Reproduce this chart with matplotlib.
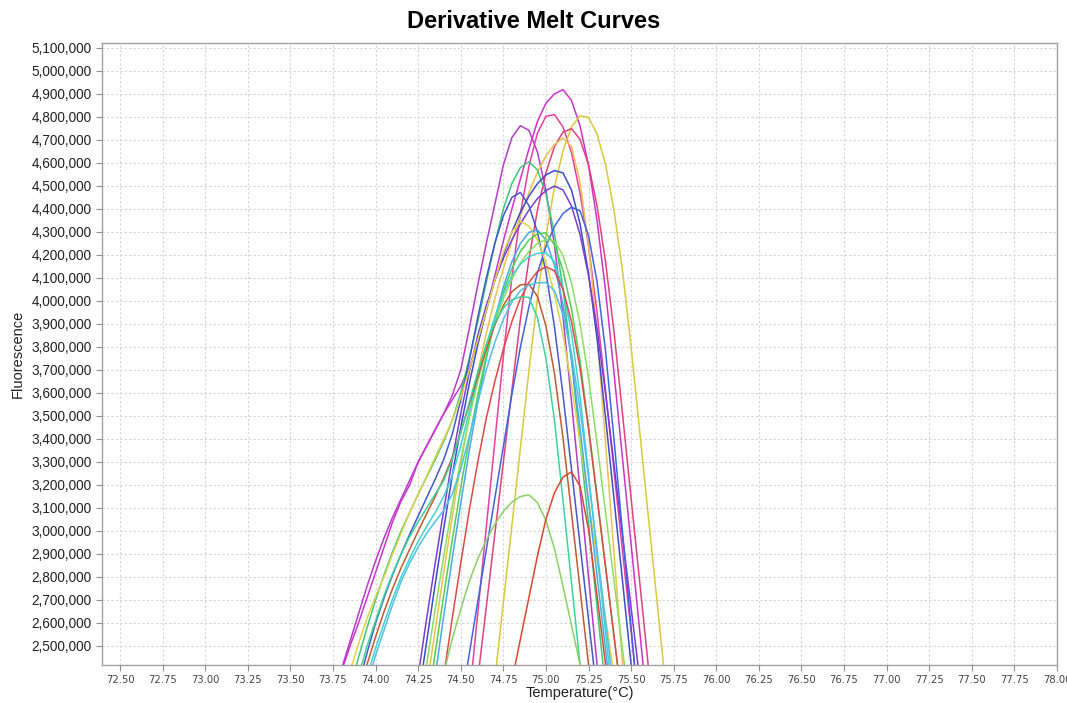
import numpy as np
import matplotlib
matplotlib.use("Agg")
import matplotlib.pyplot as plt
from matplotlib.ticker import FuncFormatter

# derivative melt data, -dF/dT in thousands, sampled every 0.05 C
# each curve starts at its own first temperature
step = 0.05

well_01 = [2400, 2520, 2640, 2760, 2870, 2970, 3060, 3140, 3220, 3300, 3370, 3440, 3510, 3590, 3700, 3880,
           4070, 4250, 4420, 4590, 4710, 4762, 4742, 4648, 4481, 4244, 3935, 3562, 3182, 2802, 2420, 2038]
well_02 = [2390, 2500, 2600, 2710, 2820, 2930, 3040, 3130, 3200, 3300, 3370, 3440, 3510, 3570, 3630, 3710,
           3820, 3960, 4110, 4260, 4400, 4530, 4660, 4780, 4860, 4900, 4919, 4872, 4762, 4590, 4350, 4045,
           3685, 3312, 2942, 2570, 2197]
well_03 = [2274, 2643, 3016, 3388, 3759, 4101, 4379, 4585, 4729, 4803, 4810, 4757, 4645, 4470, 4240, 3950,
           3608, 3258, 2909, 2561, 2212]
well_04 = [2353, 2688, 3022, 3359, 3694, 4012, 4282, 4494, 4652, 4757, 4805, 4798, 4726, 4593, 4392, 4129,
           3799, 3438, 3072, 2709, 2348]
well_05 = [2357, 2669, 2986, 3298, 3611, 3920, 4181, 4394, 4557, 4671, 4734, 4749, 4703, 4592, 4414, 4170,
           3865, 3506, 3142, 2783, 2420, 2057]
well_06 = [2320, 2570, 2820, 3060, 3290, 3500, 3690, 3860, 4010, 4140, 4260, 4370, 4470, 4560, 4630, 4680,
           4708, 4671, 4518, 4247, 3858, 3382, 2901, 2420, 1939]
well_07 = [2310, 2450, 2580, 2700, 2810, 2910, 3000, 3080, 3160, 3235, 3310, 3390, 3480, 3600, 3750, 3910,
           4080, 4250, 4400, 4510, 4580, 4605, 4570, 4465, 4295, 4054, 3744, 3388, 3032, 2669, 2313]
well_08 = [2270, 2520, 2770, 3010, 3240, 3450, 3640, 3810, 3960, 4090, 4200, 4300, 4385, 4455, 4510, 4548,
           4567, 4557, 4482, 4336, 4121, 3837, 3493, 3136, 2779, 2420, 2063]
well_09 = [2370, 2620, 2860, 3090, 3310, 3510, 3690, 3850, 3980, 4090, 4185, 4265, 4335, 4395, 4445, 4480,
           4499, 4483, 4413, 4290, 4111, 3880, 3597, 3287, 2977, 2667, 2358, 2048]
well_10 = [2330, 2470, 2600, 2710, 2810, 2900, 2985, 3065, 3145, 3225, 3310, 3420, 3570, 3740, 3930, 4100,
           4250, 4370, 4450, 4472, 4415, 4300, 4126, 3889, 3593, 3269, 2942, 2615, 2290]
well_11 = [2241, 2466, 2693, 2918, 3142, 3367, 3592, 3799, 3974, 4121, 4237, 4324, 4380, 4408, 4392, 4285,
           4084, 3783, 3395, 2989, 2581, 2175]
well_12 = [2260, 2390, 2510, 2620, 2715, 2800, 2900, 2990, 3080, 3160, 3240, 3320, 3400, 3480, 3580, 3700,
           3830, 3960, 4090, 4210, 4300, 4345, 4326, 4266, 4168, 4031, 3854, 3637, 3386, 3132, 2878, 2624, 2368]
well_13 = [2370, 2630, 2880, 3120, 3350, 3560, 3750, 3920, 4060, 4170, 4250, 4298, 4309, 4265, 4155, 3983,
           3747, 3448, 3127, 2806, 2484, 2163]
well_14 = [2220, 2470, 2720, 2960, 3190, 3400, 3590, 3760, 3910, 4040, 4140, 4215, 4265, 4292, 4296, 4244,
           4133, 3965, 3740, 3456, 3153, 2847, 2540, 2238]
well_15 = [2180, 2420, 2660, 2890, 3110, 3310, 3490, 3650, 3790, 3910, 4010, 4095, 4165, 4215, 4250, 4267,
           4259, 4198, 4078, 3902, 3667, 3382, 3081, 2781, 2481, 2180]
well_16 = [2370, 2490, 2600, 2705, 2800, 2880, 2955, 3020, 3080, 3150, 3240, 3370, 3520, 3670, 3810, 3930,
           4030, 4110, 4160, 4192, 4207, 4210, 4171, 4054, 3861, 3587, 3249, 2903, 2558, 2212]
well_17 = [2370, 2620, 2860, 3090, 3300, 3490, 3650, 3790, 3910, 4010, 4080, 4128, 4149, 4131, 4050, 3910,
           3709, 3444, 3145, 2842, 2541, 2240]
well_18 = [2300, 2420, 2540, 2650, 2750, 2840, 2920, 3000, 3075, 3150, 3230, 3320, 3430, 3550, 3670, 3790,
           3895, 3980, 4040, 4070, 4074, 4020, 3891, 3686, 3405, 3079, 2749, 2420, 2091]
well_19 = [2330, 2460, 2570, 2680, 2780, 2860, 2930, 2990, 3040, 3090, 3160, 3270, 3410, 3560, 3700, 3820,
           3920, 3995, 4045, 4070, 4079, 4080, 4045, 3942, 3773, 3532, 3233, 2920, 2608, 2294]
well_20 = [2370, 2500, 2610, 2720, 2815, 2900, 2975, 3040, 3100, 3160, 3220, 3310, 3430, 3560, 3690, 3810,
           3905, 3970, 4005, 4018, 4016, 3927, 3751, 3482, 3134, 2777, 2420, 2063]
well_21 = [2380, 2530, 2660, 2780, 2880, 2960, 3030, 3085, 3125, 3150, 3157, 3124, 3046, 2923, 2760, 2590,
           2420, 2250]
well_22 = [2347, 2529, 2710, 2891, 3051, 3166, 3234, 3257, 3195, 3008, 2719, 2420, 2121]

wells = [well_01, well_02, well_03, well_04, well_05, well_06, well_07, well_08, well_09, well_10, well_11,
         well_12, well_13, well_14, well_15, well_16, well_17, well_18, well_19, well_20, well_21, well_22]
first_temp = [73.80, 73.80, 74.55, 74.70, 74.60, 74.30, 73.85, 74.25, 74.25, 73.90, 74.50,
              73.80, 74.35, 74.30, 74.25, 73.95, 74.40, 73.90, 73.95, 73.90, 74.40, 74.80]
colors = ["#b43cc8", "#cc33cc", "#e6409e", "#d8c83c", "#e0407c", "#ecc050", "#3cc87c", "#3c4cc8",
          "#7a3cd8", "#4458c8", "#4064e0", "#e2d24a", "#48a8e8", "#50d050", "#88e060", "#40d4d0",
          "#e04848", "#c05a30", "#50c0e8", "#3cd49a", "#8cd064", "#d8482c"]

x_ticks = np.arange(72.5, 78.001, 0.25)
y_ticks = np.arange(2500000, 5100001, 100000)

fig = plt.figure(figsize=(10.67, 7.03), dpi=100)
ax = fig.add_axes([0.0956, 0.0541, 0.8950, 0.8848])

for vals, t0, c in zip(wells, first_temp, colors):
    t = t0 + step * np.arange(len(vals))
    ax.plot(t, np.array(vals) * 1000, color=c, lw=1.1, solid_joinstyle="round")

ax.set_xlim(72.394, 78.0)
ax.set_ylim(2417400, 5121700)
ax.set_xticks(x_ticks)
ax.set_yticks(y_ticks)
ax.xaxis.set_major_formatter(FuncFormatter(lambda v, p: f"{v:.2f}"))
ax.yaxis.set_major_formatter(FuncFormatter(lambda v, p: f"{int(round(v)):,}"))

ax.grid(True, color="#d4d4d4", linestyle=(0, (2, 2)), linewidth=0.8)
ax.set_axisbelow(True)
for s in ax.spines.values():
    s.set_color("#a0a0a0")
    s.set_linewidth(1.0)
ax.tick_params(axis="both", colors="#909090", length=4, width=0.8)
for lab in ax.get_yticklabels():
    lab.set_fontfamily("Liberation Sans")
    lab.set_fontsize(9.8)
    lab.set_color("#222222")
for lab in ax.get_xticklabels():
    lab.set_fontfamily("DejaVu Sans")
    lab.set_fontsize(7.2)
    lab.set_color("#444444")

fig.text(0.5, 1 - 22 / 703, "Derivative Melt Curves", ha="center", va="center",
         fontsize=17, fontweight="bold", family="Liberation Sans")
fig.text(18 / 1067, 1 - 354 / 703, "Fluorescence", rotation=90, ha="center", va="center",
         fontsize=10.5, family="Liberation Sans", color="#222222")
fig.text(580 / 1067, 1 - 693 / 703, "Temperature(°C)", ha="center", va="center",
         fontsize=10.5, family="Liberation Sans", color="#222222")

fig.savefig("out.png", dpi=100)
